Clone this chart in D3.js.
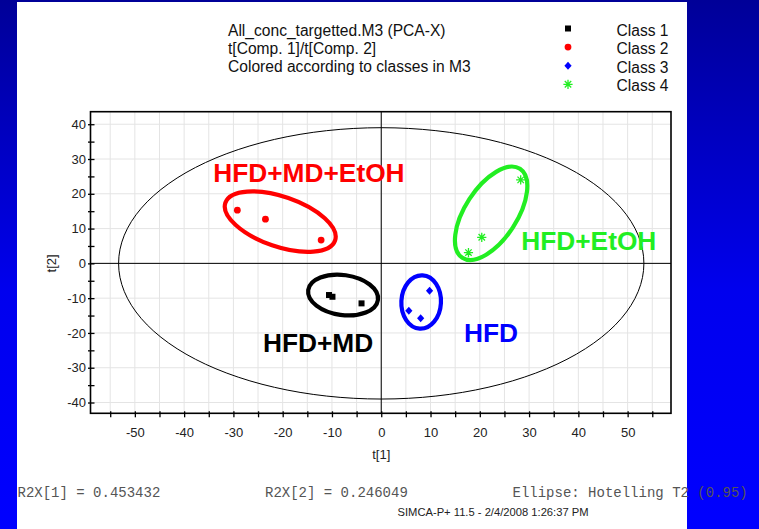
<!DOCTYPE html>
<html>
<head>
<meta charset="utf-8">
<script src="https://cdn.jsdelivr.net/npm/d3@7"></script>
<style>
  html, body { margin: 0; padding: 0; }
  body { width: 759px; height: 529px; overflow: hidden; }
  svg { display: block; }
</style>
</head>
<body>
<svg id="chart" width="759" height="529"></svg>
<script>
// PCA-X score plot, t[1] vs t[2], four classes
const titleLines = ["All_conc_targetted.M3 (PCA-X)", "t[Comp. 1]/t[Comp. 2]", "Colored according to classes in M3"];
const classNames = ["Class 1", "Class 2", "Class 3", "Class 4"];
const classColors = ["#000000", "#ff0000", "#0000ff", "#22ee22"];

// scores [t1, t2] per class
const class1Scores = [[-10.6, -9.1], [-9.9, -9.6], [-4.0, -11.5]];
const class2Scores = [[-29.2, 15.3], [-23.5, 12.7], [-12.2, 6.7]];
const class3Scores = [[9.8, -7.9], [5.6, -13.6], [8.0, -15.8]];
const class4Scores = [[28.3, 24.0], [20.4, 7.5], [17.7, 3.1]];

// group annotations: name, ring centre [t1, t2], label anchor [t1, t2]
const groupNames = ["HFD+MD+EtOH", "HFD+EtOH", "HFD+MD", "HFD"];
const groupColors = ["#ff0000", "#22ee22", "#000000", "#0000ff"];
const groupCentres = [[-20.5, 12.0], [22.3, 14.4], [-7.75, -9.1], [8.1, -11.1]];
const groupLabelAt = [[-34.1, 23.3], [28.4, 3.85], [-24.0, -25.5], [16.8, -22.6]];

// Hotelling T2 (0.95) ellipse semi-axes in t1, t2 units
const t2Ellipse = [53.3, 39.0];

const xTicks = [-50, -40, -30, -20, -10, 0, 10, 20, 30, 40, 50];
const yTicks = [-40, -30, -20, -10, 0, 10, 20, 30, 40];
const footer = ["R2X[1] = 0.453432", "R2X[2] = 0.246049", "Ellipse: Hotelling T2 (0.95)"];
const stamp = "SIMCA-P+ 11.5 - 2/4/2008 1:26:37 PM";

const svg = d3.select("#chart");

// slide background
const defs = svg.append("defs");
const grad = defs.append("linearGradient").attr("id", "bg").attr("x1", 0).attr("y1", 0).attr("x2", 0).attr("y2", 1);
grad.append("stop").attr("offset", "0%").attr("stop-color", "#000098");
grad.append("stop").attr("offset", "55%").attr("stop-color", "#0000ee");
grad.append("stop").attr("offset", "100%").attr("stop-color", "#0000ff");
svg.append("rect").attr("width", 759).attr("height", 529).attr("fill", "url(#bg)");
svg.append("rect").attr("x", 17).attr("y", 2).attr("width", 670).attr("height", 527).attr("fill", "#ffffff");

const plot = { left: 90.5, right: 671, top: 111.7, bottom: 413.3 };
const x = d3.scaleLinear().domain([-59, 58.8]).range([plot.left, plot.right]);
const y = d3.scaleLinear().domain([-43.1, 43.6]).range([plot.bottom, plot.top]);

const font = "Arial, 'Liberation Sans', Helvetica, sans-serif";

// grid
const g = svg.append("g");
const xMinor = d3.range(-55, 56, 5);
const yMinor = d3.range(-40, 41, 5);
g.selectAll(".vgrid").data(xMinor).join("line")
  .attr("x1", d => x(d)).attr("x2", d => x(d))
  .attr("y1", plot.top).attr("y2", plot.bottom)
  .attr("stroke", "#e4e4e4").attr("stroke-width", 1);
g.selectAll(".hgrid").data(yTicks).join("line")
  .attr("y1", d => y(d)).attr("y2", d => y(d))
  .attr("x1", plot.left).attr("x2", plot.right)
  .attr("stroke", "#e4e4e4").attr("stroke-width", 1);

// zero lines
g.append("line").attr("x1", plot.left).attr("x2", plot.right).attr("y1", y(0)).attr("y2", y(0))
  .attr("stroke", "#000").attr("stroke-width", 1);
g.append("line").attr("x1", x(0)).attr("x2", x(0)).attr("y1", plot.top).attr("y2", plot.bottom)
  .attr("stroke", "#000").attr("stroke-width", 1);

// Hotelling T2 ellipse
const ellPts = d3.range(0, 361, 3).map(a => {
  const r = a * Math.PI / 180;
  return [t2Ellipse[0] * Math.cos(r), t2Ellipse[1] * Math.sin(r)];
});
g.append("path")
  .attr("d", d3.line().x(d => x(d[0])).y(d => y(d[1]))(ellPts))
  .attr("fill", "none").attr("stroke", "#000").attr("stroke-width", 1);

// frame
g.append("rect").attr("x", plot.left).attr("y", plot.top)
  .attr("width", plot.right - plot.left).attr("height", plot.bottom - plot.top)
  .attr("fill", "none").attr("stroke", "#000").attr("stroke-width", 1.6);

// axes
const yAxis = d3.axisLeft(y).tickValues(yMinor).tickSize(0).tickFormat(d => yTicks.includes(d) ? d : "");
const yG = svg.append("g").attr("transform", `translate(${plot.left},0)`).call(yAxis);
yG.select(".domain").remove();
yG.selectAll(".tick line").attr("x1", -2.5).attr("x2", 4).attr("stroke", "#000").attr("stroke-width", 1.3);
yG.selectAll(".tick text").attr("x", -4.5).attr("font-family", font).attr("font-size", 13).attr("fill", "#222");

const xAxis = d3.axisBottom(x).tickValues(xMinor).tickSize(0).tickFormat(d => xTicks.includes(d) ? d : "");
const xG = svg.append("g").attr("transform", `translate(0,${plot.bottom})`).call(xAxis);
xG.select(".domain").remove();
xG.selectAll(".tick line").attr("y1", -2).attr("y2", 4).attr("stroke", "#000").attr("stroke-width", 1.3);
xG.selectAll(".tick text").attr("y", 14).attr("font-family", font).attr("font-size", 13).attr("fill", "#222");

svg.append("text").attr("x", x(0)).attr("y", 459).attr("text-anchor", "middle")
  .attr("font-family", font).attr("font-size", 13).attr("fill", "#222").text("t[1]");
svg.append("text").attr("transform", `translate(56,${y(0)}) rotate(-90)`).attr("text-anchor", "middle")
  .attr("font-family", font).attr("font-size", 13).attr("fill", "#222").text("t[2]");

// group rings
const ringShape = [[58, 25, 19], [53, 26, -57], [35.2, 20, 8], [19.8, 26.7, 3]];
svg.append("g").selectAll("ellipse").data(groupCentres).join("ellipse")
  .attr("transform", (d, i) => `translate(${x(d[0])},${y(d[1])}) rotate(${ringShape[i][2]})`)
  .attr("rx", (d, i) => ringShape[i][0]).attr("ry", (d, i) => ringShape[i][1])
  .attr("fill", "none").attr("stroke", (d, i) => groupColors[i]).attr("stroke-width", 4.2);

// markers
const seriesScores = [class1Scores, class2Scores, class3Scores, class4Scores];
const asterisk = s => `M${-s},0L${s},0M0,${-s}L0,${s}M${-s * .7},${-s * .7}L${s * .7},${s * .7}M${-s * .7},${s * .7}L${s * .7},${-s * .7}`;
function drawMarker(sel, k) {
  if (k === 0) sel.append("rect").attr("x", -3).attr("y", -3).attr("width", 6).attr("height", 6).attr("fill", classColors[0]);
  else if (k === 1) sel.append("circle").attr("r", 3.4).attr("fill", classColors[1]);
  else if (k === 2) sel.append("path").attr("d", "M0,-4L3.6,0L0,4L-3.6,0Z").attr("fill", classColors[2]);
  else sel.append("path").attr("d", asterisk(4.6)).attr("stroke", classColors[3]).attr("stroke-width", 1.3).attr("fill", "none");
}
seriesScores.forEach((pts, k) => {
  svg.append("g").selectAll("g").data(pts).join("g")
    .attr("transform", d => `translate(${x(d[0])},${y(d[1])})`)
    .each(function () { drawMarker(d3.select(this), k); });
});

// group labels
svg.append("g").selectAll("text").data(groupLabelAt).join("text")
  .attr("x", d => x(d[0])).attr("y", d => y(d[1]))
  .attr("font-family", font).attr("font-weight", "bold").attr("font-size", 26.3)
  .attr("fill", (d, i) => groupColors[i]).text((d, i) => groupNames[i]);

// title block
svg.append("g").selectAll("text").data(titleLines).join("text")
  .attr("x", 228).attr("y", (d, i) => 36 + i * 18.2)
  .attr("font-family", font).attr("font-size", 15.6).attr("fill", "#111").text(d => d);

// legend
const leg = svg.append("g");
classNames.forEach((name, k) => {
  const row = leg.append("g").attr("transform", `translate(568,${28.5 + k * 18.6})`);
  drawMarker(row, k);
  leg.append("text").attr("x", 616.5).attr("y", 35.5 + k * 18.5)
    .attr("font-family", font).attr("font-size", 15.6).attr("fill", "#111").text(name);
});

// footer
const mono = "'Courier New', 'Liberation Mono', monospace";
const footX = [17.5, 265, 512.5];
footer.forEach((t, i) => {
  svg.append("text").attr("x", footX[i]).attr("y", 497)
    .attr("font-family", mono).attr("font-size", 14).attr("fill", "#555").text(t);
});
svg.append("text").attr("x", 397.5).attr("y", 515.5)
  .attr("font-family", font).attr("font-size", 11.2).attr("fill", "#222").text(stamp);
</script>
</body>
</html>
